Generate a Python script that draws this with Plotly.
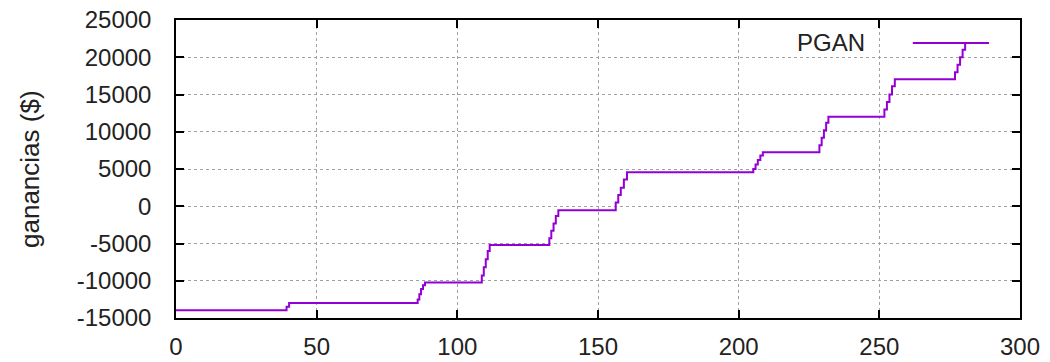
import plotly.graph_objects as go

# Data
x_vals = [0, 38.7, 39.3, 40.2,
          85.3, 85.9, 86.5, 87.1, 87.8, 88.5,
          108.1, 108.7, 109.4, 110.1, 110.8, 111.5,
          132.0, 132.7, 133.4, 134.2, 135.0, 135.9,
          155.5, 156.3, 157.2, 158.1, 159.2, 160.3,
          204.4, 205.2, 206.0, 206.8, 207.7, 208.6,
          228.0, 228.7, 229.5, 230.3, 231.1, 231.9,
          251.0, 251.8, 252.7, 253.6, 254.5, 255.5,
          276.1, 276.9, 277.8, 278.7, 279.6, 280.5,
          289.0]
pgan = [-13950, -13950, -13500, -13000,
        -13000, -12500, -11800, -11100, -10600, -10250,
        -10250, -9300, -8200, -7100, -6000, -5200,
        -5200, -4300, -3300, -2300, -1300, -550,
        -550, 500, 1500, 2500, 3600, 4550,
        4550, 5000, 5600, 6200, 6800, 7250,
        7250, 8200, 9200, 10200, 11200, 12000,
        12000, 13000, 14000, 15000, 16100, 17050,
        17050, 18000, 19000, 20000, 21000, 21900,
        21900]
series_name = "PGAN"
y_title = "ganancias ($)"
x_ticks = [0, 50, 100, 150, 200, 250, 300]
x_tick_labels = ["0", "50", "100", "150", "200", "250", "300"]
y_ticks = [-15000, -10000, -5000, 0, 5000, 10000, 15000, 20000, 25000]
y_tick_labels = ["-15000", "-10000", "-5000", "0", "5000", "10000", "15000", "20000", "25000"]

LINE_COLOR = "#9400D3"
FONT = "Liberation Sans, Arial, sans-serif"
TEXT_COLOR = "#222222"

fig = go.Figure()
fig.add_trace(go.Scatter(
    x=x_vals, y=pgan, mode="lines", line=dict(color=LINE_COLOR, width=2, shape="hv"),
    name=series_name, showlegend=False, hoverinfo="skip"))

axis_common = dict(
    showline=True, linecolor="#000000", linewidth=1.5, mirror="ticks",
    ticks="inside", ticklen=8, tickwidth=1.5, tickcolor="#000000",
    showgrid=True, gridcolor="#a0a0a0", gridwidth=1, griddash="3px,3px",
    zeroline=False, automargin=False,
    tickfont=dict(family=FONT, size=24, color=TEXT_COLOR),
)

fig.update_xaxes(range=[0, 300], tickvals=x_ticks, ticktext=x_tick_labels,
                 ticklabelstandoff=6, **axis_common)
fig.update_yaxes(range=[-15000, 25000], tickvals=y_ticks, ticktext=y_tick_labels,
                 ticklabelstandoff=18, **axis_common)

PLOT_L, PLOT_R = 176, 1020

# y-axis title placed like gnuplot's
fig.add_annotation(x=(30 - PLOT_L) / (PLOT_R - PLOT_L), y=0.5, xref="paper", yref="paper",
                   text=y_title, showarrow=False, textangle=-90,
                   xanchor="center", yanchor="middle",
                   font=dict(family=FONT, size=26, color=TEXT_COLOR))

# gnuplot-style legend: text on the left, sample line on the right
fig.add_annotation(x=0.819, y=0.923, xref="paper", yref="paper", text=series_name,
                   showarrow=False, xanchor="right", yanchor="middle",
                   font=dict(family=FONT, size=24, color=TEXT_COLOR))
fig.add_shape(type="line", xref="paper", yref="paper", x0=0.873, x1=0.963, y0=0.923, y1=0.923,
              line=dict(color=LINE_COLOR, width=2))

fig.update_layout(
    width=1050, height=362,
    margin=dict(l=PLOT_L, r=1050 - PLOT_R, t=20, b=44, autoexpand=False),
    plot_bgcolor="#ffffff", paper_bgcolor="#ffffff",
    font=dict(family=FONT, color=TEXT_COLOR),
)

fig.write_html("out.html")
